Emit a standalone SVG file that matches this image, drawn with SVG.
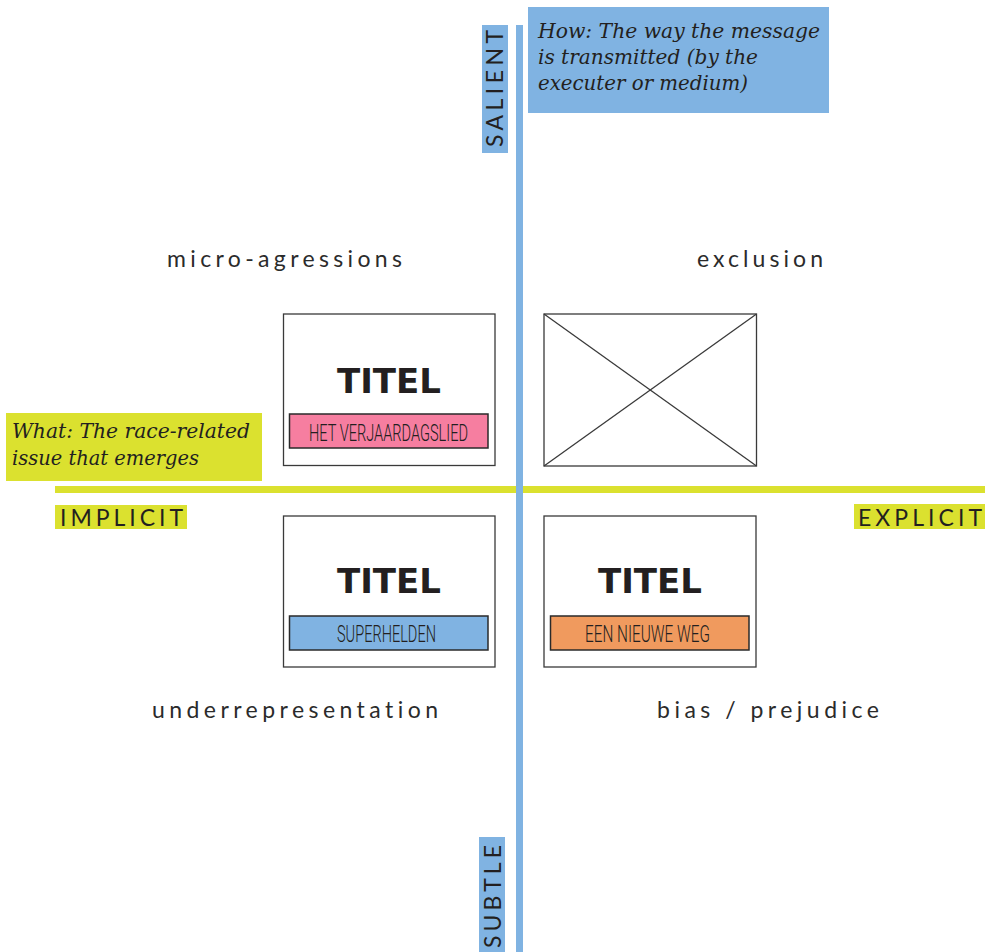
<svg xmlns="http://www.w3.org/2000/svg" width="985" height="952" viewBox="0 0 985 952">
  <style>
    .axis-label { font-family: Lato, "Noto Sans", sans-serif; font-size: 23px; fill: #231f20; }
    .quad { font-family: Lato, "Noto Sans", sans-serif; font-size: 23px; fill: #2b2b2b; font-variant-ligatures: none; }
    .note { font-family: "DejaVu Serif", Georgia, serif; font-style: italic; font-size: 20.5px; fill: #231f20; }
    .card { fill: #ffffff; stroke: #3a3a3a; stroke-width: 1.3; }
    .title { font-family: "DejaVu Sans", sans-serif; font-weight: 700; font-size: 34px; fill: #231f20; text-anchor: middle; }
    .tag { stroke: #2a2a2a; stroke-width: 1.5; }
    .tag-text { font-family: Roboto, "Liberation Sans", sans-serif; font-weight: 300; font-size: 23px; fill: #231f20; }
    .cross { stroke: #3a3a3a; stroke-width: 1.3; }
  </style>

  <rect width="985" height="952" fill="#ffffff"/>

  <!-- axes -->
  <g id="connectors">
    <rect x="55" y="486" width="930" height="7" fill="#dbe12f"/>
    <rect x="516" y="25" width="7" height="927" fill="#80b3e2"/>
  </g>

  <!-- axis end labels -->
  <g id="salient">
    <rect x="482" y="25" width="26" height="128" fill="#80b3e2"/>
    <text class="axis-label" transform="translate(503,147) rotate(-90)" textLength="117" lengthAdjust="spacing">SALIENT</text>
  </g>
  <g id="subtle">
    <rect x="479" y="837" width="26" height="115" fill="#80b3e2"/>
    <text class="axis-label" transform="translate(501,948) rotate(-90)" textLength="103" lengthAdjust="spacing">SUBTLE</text>
  </g>
  <g id="implicit">
    <rect x="55" y="505" width="132" height="24" fill="#dbe12f"/>
    <text class="axis-label" x="60" y="526" textLength="123" lengthAdjust="spacing">IMPLICIT</text>
  </g>
  <g id="explicit">
    <rect x="854" y="504" width="131" height="25" fill="#dbe12f"/>
    <text class="axis-label" x="858" y="526" textLength="124" lengthAdjust="spacing">EXPLICIT</text>
  </g>

  <!-- explanatory notes -->
  <g id="how-note">
    <rect x="528" y="7" width="301" height="106" fill="#80b3e2"/>
    <text class="note" x="538" y="38" textLength="282" lengthAdjust="spacingAndGlyphs">How: The way the message</text>
    <text class="note" x="538" y="64" textLength="220" lengthAdjust="spacingAndGlyphs">is transmitted (by the</text>
    <text class="note" x="538" y="90" textLength="210" lengthAdjust="spacingAndGlyphs">executer or medium)</text>
  </g>
  <g id="what-note">
    <rect x="6" y="413" width="256" height="68" fill="#dbe12f"/>
    <text class="note" x="12" y="438" textLength="238" lengthAdjust="spacingAndGlyphs">What: The race-related</text>
    <text class="note" x="12" y="465" textLength="187" lengthAdjust="spacingAndGlyphs">issue that emerges</text>
  </g>

  <!-- quadrant labels -->
  <g id="quadrant-labels">
    <text class="quad" x="167" y="267" textLength="235" lengthAdjust="spacing">micro-agressions</text>
    <text class="quad" x="697" y="267" textLength="126" lengthAdjust="spacing">exclusion</text>
    <text class="quad" x="152" y="718" textLength="286" lengthAdjust="spacing">underrepresentation</text>
    <text class="quad" x="657" y="718" textLength="222" lengthAdjust="spacing">bias / prejudice</text>
  </g>

  <!-- cards -->
  <g id="card-verjaardagslied">
    <rect class="card" x="283.5" y="314" width="211.5" height="151.5"/>
    <text class="title" x="389" y="393">TITEL</text>
    <rect class="tag" x="289.5" y="414" width="198.5" height="34" fill="#f67ea0"/>
    <text class="tag-text" x="309" y="441" textLength="159" lengthAdjust="spacingAndGlyphs">HET VERJAARDAGSLIED</text>
  </g>

  <g id="card-placeholder">
    <rect class="card" x="544" y="314" width="212.5" height="152"/>
    <line class="cross" x1="544" y1="314" x2="756.5" y2="466"/>
    <line class="cross" x1="756.5" y1="314" x2="544" y2="466"/>
  </g>

  <g id="card-superhelden">
    <rect class="card" x="283.5" y="516" width="211.5" height="151"/>
    <text class="title" x="389" y="593">TITEL</text>
    <rect class="tag" x="289.5" y="616" width="198.5" height="34" fill="#80b3e2"/>
    <text class="tag-text" x="337" y="642" textLength="99" lengthAdjust="spacingAndGlyphs">SUPERHELDEN</text>
  </g>

  <g id="card-nieuwe-weg">
    <rect class="card" x="544" y="516" width="212" height="151"/>
    <text class="title" x="650" y="593">TITEL</text>
    <rect class="tag" x="550.5" y="616" width="198.5" height="34" fill="#f09a5e"/>
    <text class="tag-text" x="585" y="642" textLength="125" lengthAdjust="spacingAndGlyphs">EEN NIEUWE WEG</text>
  </g>
</svg>
